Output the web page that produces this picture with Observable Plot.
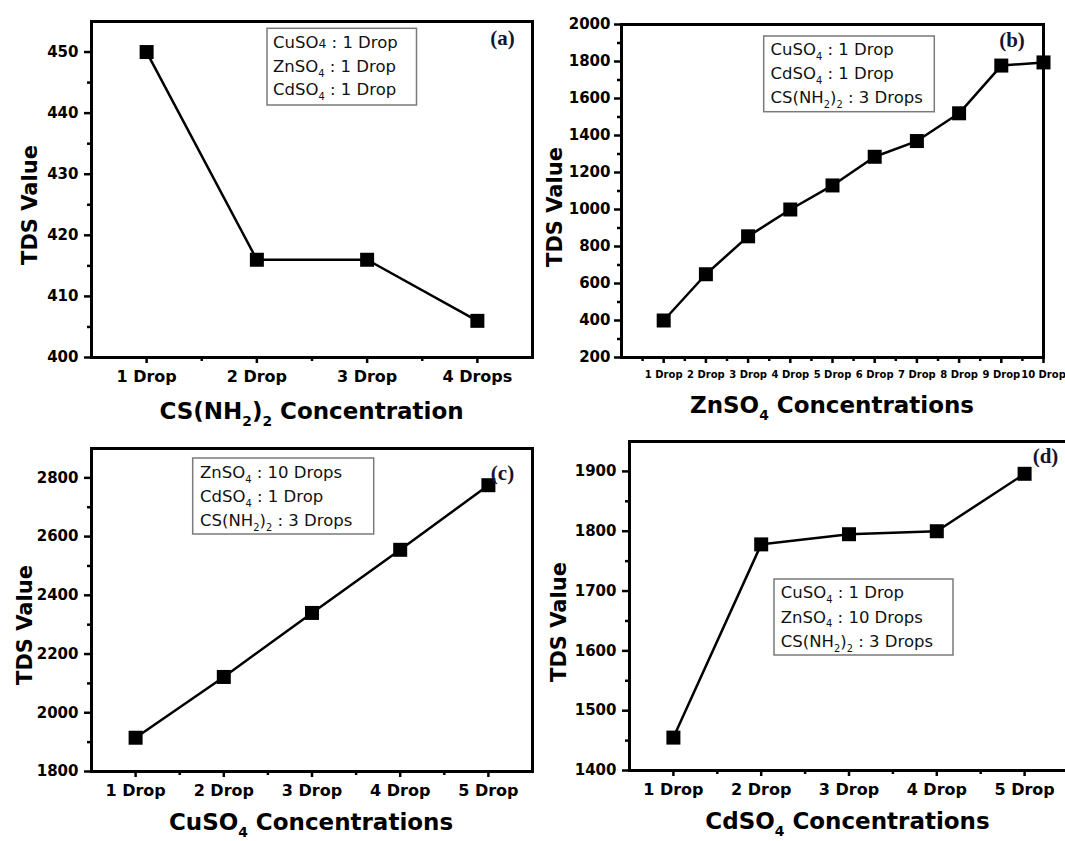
<!DOCTYPE html>
<html><head><meta charset="utf-8">
<script src="https://cdn.jsdelivr.net/npm/d3@7"></script>
<script src="https://cdn.jsdelivr.net/npm/@observablehq/plot@0.6"></script>
<style>
html,body{margin:0;padding:0;background:#fff;overflow:hidden;}
#fig{position:relative;width:1065px;height:841px;overflow:hidden;background:#fff;}
#fig > div{position:absolute;}
#fig svg{display:block;max-width:none !important;}
</style></head><body><div id="fig"></div>
<script>
// ---------- data ----------
const dropsA = ["1 Drop", "2 Drop", "3 Drop", "4 Drops"];
const tdsA = [450, 416, 416, 406];
const yTicksA = [400, 410, 420, 430, 440, 450];

const dropsB = ["1 Drop", "2 Drop", "3 Drop", "4 Drop", "5 Drop", "6 Drop", "7 Drop", "8 Drop", "9 Drop", "10 Drop"];
const tdsB = [400, 650, 855, 1000, 1130, 1285, 1370, 1520, 1778, 1795];
const yTicksB = [200, 400, 600, 800, 1000, 1200, 1400, 1600, 1800, 2000];

const dropsC = ["1 Drop", "2 Drop", "3 Drop", "4 Drop", "5 Drop"];
const tdsC = [1915, 2122, 2340, 2555, 2775];
const yTicksC = [1800, 2000, 2200, 2400, 2600, 2800];

const dropsD = ["1 Drop", "2 Drop", "3 Drop", "4 Drop", "5 Drop"];
const tdsD = [1455, 1778, 1795, 1800, 1896];
const yTicksD = [1400, 1500, 1600, 1700, 1800, 1900];

const yTitle = "TDS Value";
const xTitleA = [["CS(NH"], ["2", "sub"], [")"], ["2", "sub"], [" Concentration"]];
const xTitleB = [["ZnSO"], ["4", "sub"], [" Concentrations"]];
const xTitleC = [["CuSO"], ["4", "sub"], [" Concentrations"]];
const xTitleD = [["CdSO"], ["4", "sub"], [" Concentrations"]];

const legendA = [
  [["CuSO"], ["4", "small"], [" : 1 Drop"]],
  [["ZnSO"], ["4", "sub"], [" : 1 Drop"]],
  [["CdSO"], ["4", "sub"], [" : 1 Drop"]]
];
const legendB = [
  [["CuSO"], ["4", "sub"], [" : 1 Drop"]],
  [["CdSO"], ["4", "sub"], [" : 1 Drop"]],
  [["CS(NH"], ["2", "sub"], [")"], ["2", "sub"], [" : 3 Drops"]]
];
const legendC = [
  [["ZnSO"], ["4", "sub"], [" : 10 Drops"]],
  [["CdSO"], ["4", "sub"], [" : 1 Drop"]],
  [["CS(NH"], ["2", "sub"], [")"], ["2", "sub"], [" : 3 Drops"]]
];
const legendD = [
  [["CuSO"], ["4", "sub"], [" : 1 Drop"]],
  [["ZnSO"], ["4", "sub"], [" : 10 Drops"]],
  [["CS(NH"], ["2", "sub"], [")"], ["2", "sub"], [" : 3 Drops"]]
];

// ---------- helpers ----------
const FONT = "DejaVu Sans";
const SERIF = "Liberation Serif";

function rich(sel, {x, y, rotate = 0, anchor = "start", size, weight = "normal", family = FONT, fill = "#000", segs}) {
  const t = sel.append("text")
    .attr("transform", `translate(${x},${y})` + (rotate ? ` rotate(${rotate})` : ""))
    .attr("text-anchor", anchor)
    .attr("font-size", size)
    .attr("font-weight", weight)
    .attr("font-family", family)
    .attr("fill", fill);
  let shift = 0;
  segs.forEach(([s, kind]) => {
    const sp = t.append("tspan").text(s);
    const target = kind === "sub" ? size * 0.3 : 0;
    if (target !== shift) { sp.attr("dy", target - shift); shift = target; }
    if (kind === "sub") sp.attr("font-size", size * 0.6);
    if (kind === "small") sp.attr("font-size", size * 0.75);
  });
  return t;
}

function panel(cfg) {
  const data = cfg.labels.map((label, i) => ({step: i + 1, label, tds: cfg.values[i]}));
  const steps = data.map(d => d.step);
  const chart = Plot.plot({
    width: cfg.width, height: cfg.height,
    marginLeft: cfg.m[0], marginRight: cfg.m[1], marginTop: cfg.m[2], marginBottom: cfg.m[3],
    style: {fontFamily: FONT, color: "#000", background: "transparent", overflow: "visible", maxWidth: "none"},
    x: {domain: cfg.xDomain},
    y: {domain: cfg.yDomain},
    marks: [
      Plot.axisY(cfg.yTicks, {tickSize: 7, tickPadding: cfg.yPad, fontSize: 15, fontWeight: "bold", strokeWidth: 2.5, label: null, tickFormat: d => String(d)}),
      Plot.axisY(cfg.yMinor, {tickSize: 4, strokeWidth: 2.5, label: null, tickFormat: () => ""}),
      Plot.axisX(steps, {tickSize: 6, tickPadding: 7, fontSize: cfg.xFont, fontWeight: "bold", strokeWidth: 2.5, label: null, tickFormat: d => cfg.labels[d - 1]}),
      Plot.axisX(cfg.xMinor, {tickSize: 4, strokeWidth: 2.5, label: null, tickFormat: () => ""}),
      Plot.line(data, {x: "step", y: "tds", stroke: "#000", strokeWidth: 2.5}),
      Plot.dot(data, {x: "step", y: "tds", symbol: "square", r: 7.9, fill: "#000", stroke: null}),
      Plot.frame({stroke: "#000", strokeWidth: 3})
    ]
  });
  const svg = d3.select(chart);
  rich(svg, {x: cfg.yT[0], y: cfg.yT[1], rotate: -90, anchor: "middle", size: 21, weight: "bold", segs: [[yTitle]]});
  rich(svg, {x: cfg.xT[0], y: cfg.xT[1], anchor: "middle", size: 23, weight: "bold", segs: cfg.xTitle});
  const [lx, ly, lw, lh] = cfg.legBox;
  svg.append("rect").attr("x", lx).attr("y", ly).attr("width", lw).attr("height", lh)
    .attr("fill", "#fff").attr("stroke", "#7a7a7a").attr("stroke-width", 1.5);
  cfg.legend.forEach((segs, i) => {
    rich(svg, {x: cfg.legText[0], y: cfg.legText[1] + i * cfg.legText[2], size: 16.5, fill: "#111", segs});
  });
  rich(svg, {x: cfg.tag[0], y: cfg.tag[1], anchor: "middle", size: 21, weight: "bold", family: SERIF, fill: "#141430", segs: [[cfg.tagText]]});
  const wrap = document.createElement("div");
  wrap.style.left = cfg.left + "px";
  wrap.style.top = cfg.top + "px";
  wrap.style.width = cfg.width + "px";
  wrap.style.height = cfg.height + "px";
  wrap.appendChild(chart);
  document.getElementById("fig").appendChild(wrap);
}

panel({
  left: 0, top: 0, width: 545, height: 430, m: [91, 13, 21, 73],
  labels: dropsA, values: tdsA, xDomain: [0.5, 4.5], yDomain: [400, 455],
  yTicks: yTicksA, yMinor: d3.range(405, 450, 10), xMinor: [1.5, 2.5, 3.5],
  yPad: 6, xFont: 16,
  yT: [36.5, 205], xT: [311.5, 419], xTitle: xTitleA,
  legBox: [267, 28.3, 149.5, 76.7], legText: [273, 48.3, 23.4], legend: legendA,
  tag: [502.5, 45], tagText: "(a)"
});

panel({
  left: 545, top: 0, width: 520, height: 430, m: [76, 22, 24, 73],
  labels: dropsB, values: tdsB, xDomain: [0, 10], yDomain: [200, 2000],
  yTicks: yTicksB, yMinor: d3.range(300, 2000, 200), xMinor: d3.range(0.5, 10, 1),
  yPad: 4, xFont: 10,
  yT: [17.4, 207], xT: [287, 413], xTitle: xTitleB,
  legBox: [218.7, 36, 170.6, 75.7], legText: [225.5, 55, 24], legend: legendB,
  tag: [467, 46.5], tagText: "(b)"
});

panel({
  left: 0, top: 430, width: 545, height: 411, m: [91, 13, 18, 70],
  labels: dropsC, values: tdsC, xDomain: [0.5, 5.5], yDomain: [1800, 2900],
  yTicks: yTicksC, yMinor: d3.range(1900, 2800, 200), xMinor: [1.5, 2.5, 3.5, 4.5],
  yPad: 6, xFont: 16,
  yT: [32, 195], xT: [311, 400], xTitle: xTitleC,
  legBox: [192.7, 28, 181, 76], legText: [200, 48, 24], legend: legendC,
  tag: [502.5, 49.5], tagText: "(c)"
});

panel({
  left: 545, top: 430, width: 525, height: 411, m: [84, 2, 11, 71],
  labels: dropsD, values: tdsD, xDomain: [0.5, 5.5], yDomain: [1400, 1950],
  yTicks: yTicksD, yMinor: d3.range(1450, 1900, 100), xMinor: [1.5, 2.5, 3.5, 4.5],
  yPad: 6, xFont: 16,
  yT: [20.8, 192], xT: [302.5, 399], xTitle: xTitleD,
  legBox: [229, 149, 179, 76], legText: [235.8, 168, 24.5], legend: legendD,
  tag: [500.5, 32.5], tagText: "(d)"
});
</script></body></html>
